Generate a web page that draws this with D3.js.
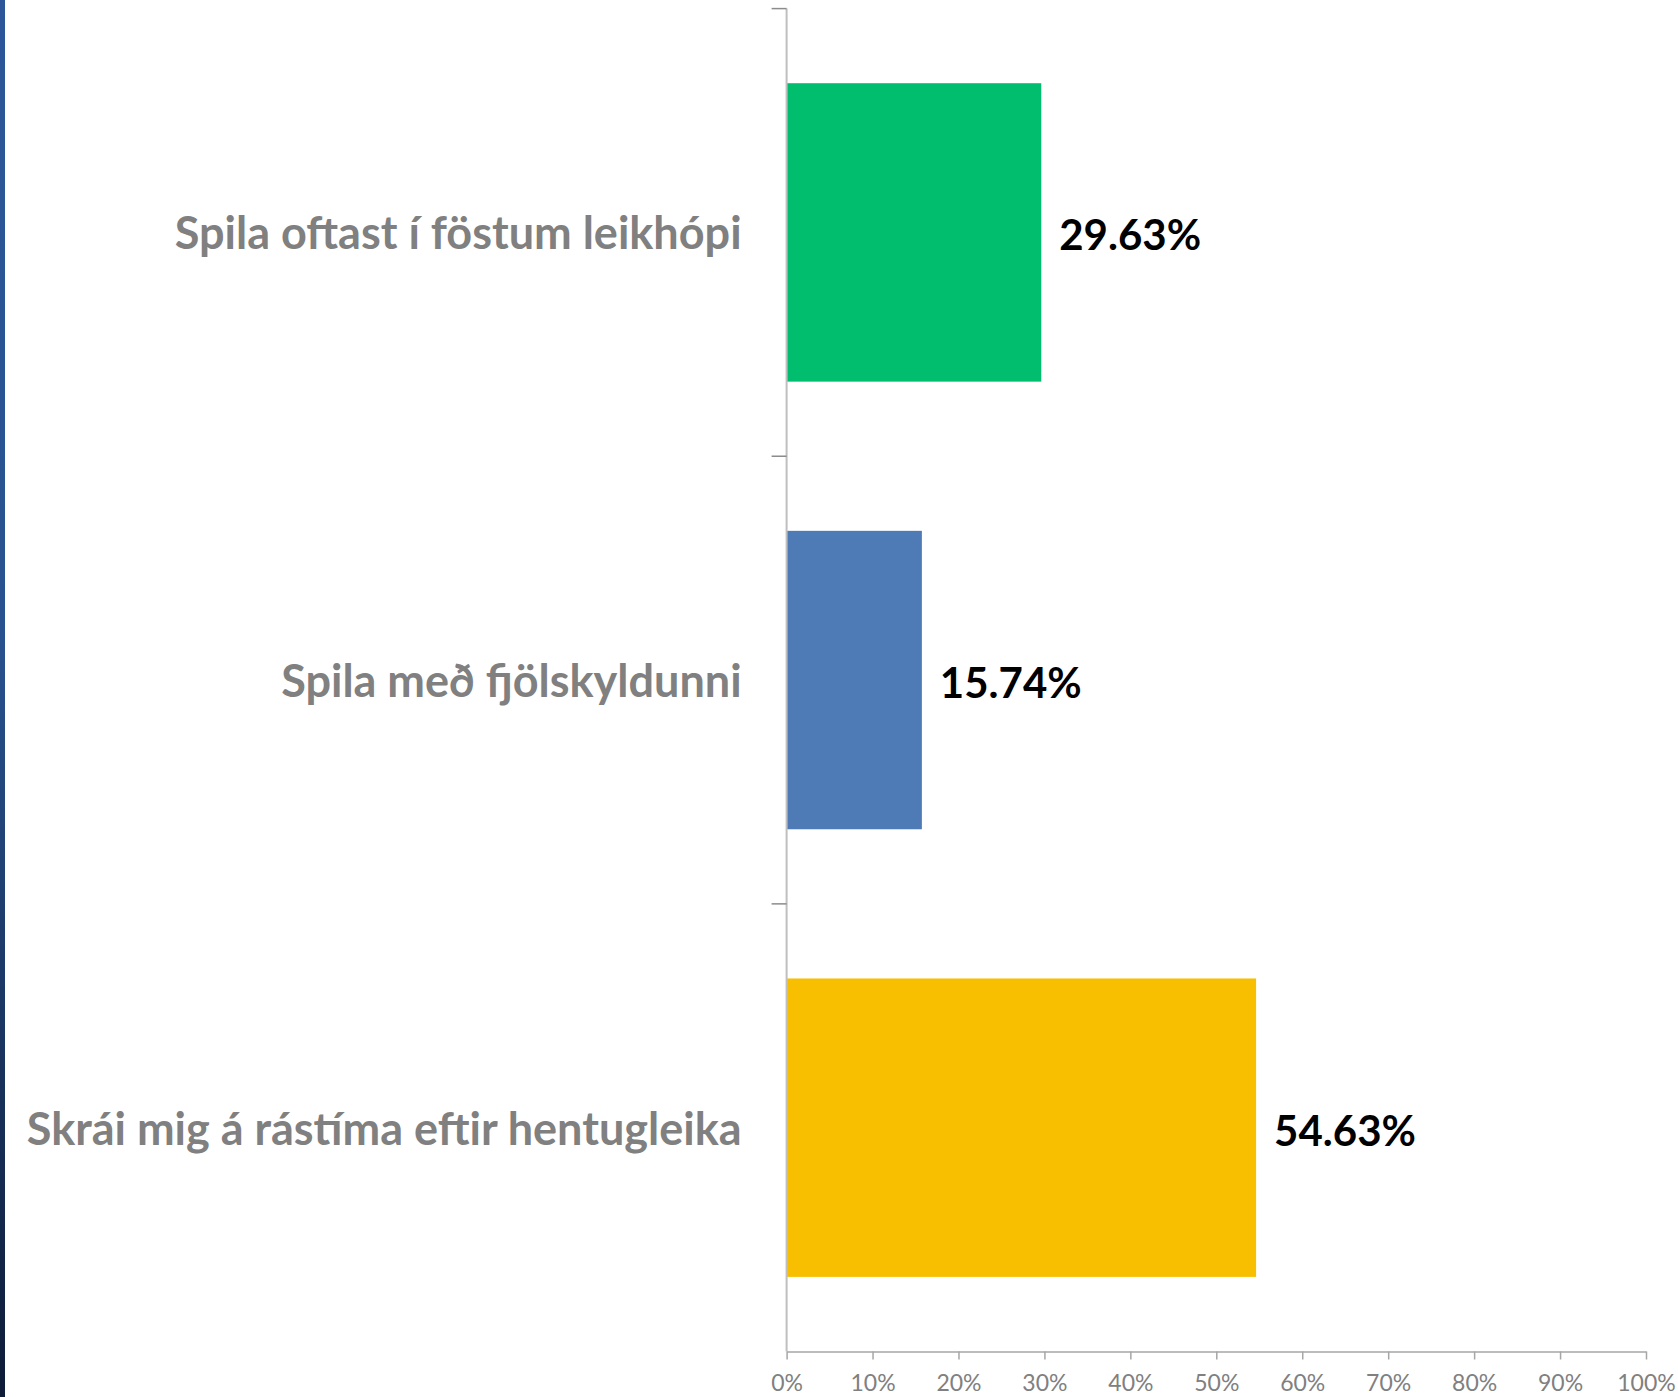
<!DOCTYPE html>
<html><head><meta charset="utf-8">
<script src="https://cdn.jsdelivr.net/npm/d3@7"></script>
<style>html,body{margin:0;padding:0;background:#fff;overflow:hidden}</style>
</head><body>
<script>
const categories = ["Spila oftast í föstum leikhópi", "Spila með fjölskyldunni", "Skrái mig á rástíma eftir hentugleika"];
const values = [0.2963, 0.1574, 0.5463];
const valueLabels = ["29.63%", "15.74%", "54.63%"];
const barColors = ["#00BE6E", "#4E7BB5", "#F8BF00"];
const tickValues = [0, 0.1, 0.2, 0.3, 0.4, 0.5, 0.6, 0.7, 0.8, 0.9, 1.0];

const W = 1678, H = 1397;
const svg = d3.select("body").append("svg").attr("width", W).attr("height", H)
  .style("font-family", "Lato, 'Open Sans', sans-serif");

// left decorative stripe
const defs = svg.append("defs");
const grad = defs.append("linearGradient").attr("id", "stripe").attr("x1", 0).attr("y1", 0).attr("x2", 0).attr("y2", 1);
grad.append("stop").attr("offset", 0).attr("stop-color", "#2B579A");
grad.append("stop").attr("offset", 0.45).attr("stop-color", "#28528F");
grad.append("stop").attr("offset", 1).attr("stop-color", "#0D1B37");
svg.append("rect").attr("x", 0).attr("y", 0).attr("width", 5).attr("height", H).attr("fill", "url(#stripe)");

const x0 = 786.6, x1 = 1646, yTop = 8.6, yBot = 1351.5;
const x = d3.scaleLinear().domain([0, 1]).range([x0, x1]);
const y = d3.scaleBand().domain(categories).range([yTop, yBot]).paddingInner(1/3).paddingOuter(1/6);

// bars
svg.append("g").selectAll("rect").data(categories).join("rect")
  .attr("x", x(0))
  .attr("y", d => y(d))
  .attr("width", (d, i) => x(values[i]) - x(0))
  .attr("height", y.bandwidth())
  .attr("fill", (d, i) => barColors[i]);

// vertical category axis
svg.append("line").attr("x1", x0).attr("x2", x0).attr("y1", yTop).attr("y2", yBot)
  .attr("stroke", "#BFBFBF").attr("stroke-width", 2);
const step = y.step();
const tickYs = [yTop].concat(categories.slice(1).map(d => y(d) - y.paddingInner() * step / 2));
svg.append("g").selectAll("line").data(tickYs).join("line")
  .attr("x1", x0 - 15).attr("x2", x0).attr("y1", d => d).attr("y2", d => d)
  .attr("stroke", "#8C8C8C").attr("stroke-width", 1.5);

// category labels
svg.append("g").selectAll("text").data(categories).join("text")
  .attr("x", 741.6)
  .attr("y", d => y(d) + y.bandwidth() / 2)
  .attr("text-anchor", "end")
  .attr("dominant-baseline", "central")
  .attr("font-size", 45)
  .attr("font-weight", "bold")
  .attr("fill", "#808080")
  .text(d => d);

// value labels
svg.append("g").selectAll("text").data(categories).join("text")
  .attr("x", (d, i) => x(values[i]) + 18)
  .attr("y", d => y(d) + y.bandwidth() / 2 + 2)
  .attr("dominant-baseline", "central")
  .attr("font-size", 42)
  .attr("font-weight", "bold")
  .attr("fill", "#000")
  .text((d, i) => valueLabels[i]);

// x axis
const xa = svg.append("g").attr("transform", `translate(0,${yBot})`)
  .call(d3.axisBottom(x).tickValues(tickValues).tickSize(8).tickSizeOuter(0).tickFormat(d3.format(".0%")));
xa.select(".domain").attr("stroke", "#A6A6A6").attr("stroke-width", 1.5);
xa.selectAll(".tick line").attr("stroke", "#A6A6A6").attr("stroke-width", 1.5);
xa.selectAll(".tick text").attr("font-size", 23).attr("fill", "#808080")
  .attr("font-family", "Lato, sans-serif").attr("dy", "1.24em");
</script>
</body></html>
